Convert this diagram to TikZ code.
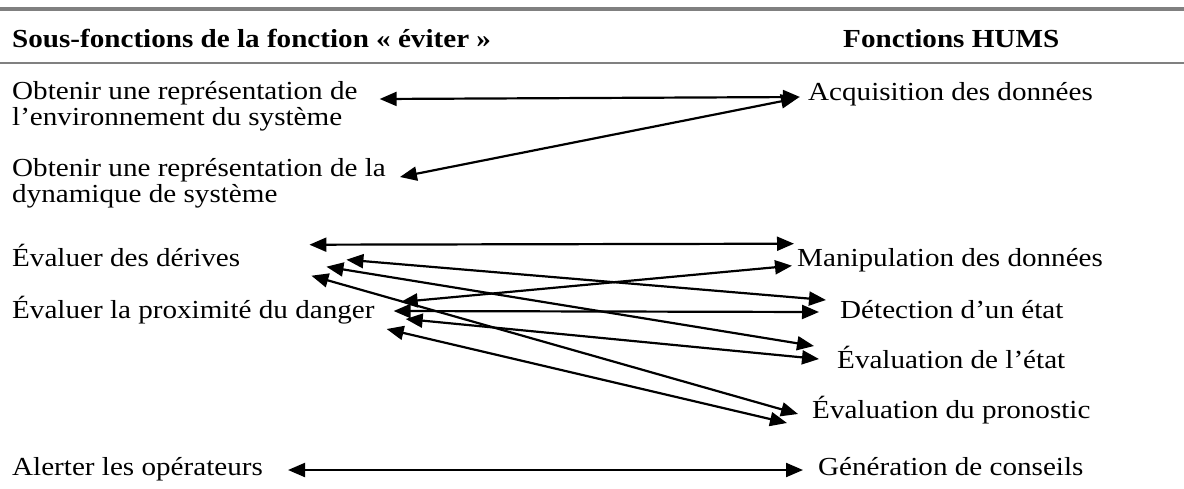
\documentclass[tikz,border=0pt]{standalone}
\usepackage{fontspec}
\setmainfont{Liberation Serif}[FakeStretch=1.12]
\usepackage{tikz}
\usetikzlibrary{arrows.meta}

\begin{document}
\begin{tikzpicture}[x=1pt,y=-1pt,
        txt/.style={anchor=base west,inner sep=0pt,align=left,font=\fontsize{26}{25.5}\selectfont},
        head/.style={txt,font=\fontsize{26}{25.5}\selectfont\bfseries},
        tablerule/.style={draw=gray},
        link/.style={{Triangle[length=17pt,width=14pt]}-{Triangle[length=17pt,width=14pt]},line width=2.2pt}]

        \useasboundingbox (0,0) rectangle (1184,488);

        % lignes du tableau
        \draw [tablerule,line width=4pt] (0,9) -- (1184,9);
        \draw [tablerule,line width=2pt] (0,63) -- (1184,63);

        % en-tetes
        \node [head] (hleft) at (12,47) {Sous-fonctions de la fonction « éviter »};
        \node [head] (hright) at (843,47) {Fonctions HUMS};

        % sous-fonctions (base = derniere ligne)
        \node [txt] (env) at (12,125) {Obtenir une représentation de\\l’environnement du système};
        \node [txt] (dyn) at (12,202) {Obtenir une représentation de la\\dynamique de système};
        \node [txt] (derives) at (12,266.7) {Évaluer des dérives};
        \node [txt] (danger) at (12,318) {Évaluer la proximité du danger};
        \node [txt] (alert) at (12,475) {Alerter les opérateurs};

        % fonctions HUMS
        \node [txt] (acq) at (808,100) {Acquisition des données};
        \node [txt] (manip) at (797,266.7) {Manipulation des données};
        \node [txt] (detect) at (840,318) {Détection d’un état};
        \node [txt] (evalst) at (837,368) {Évaluation de l’état};
        \node [txt] (prono) at (812,418) {Évaluation du pronostic};
        \node [txt] (gen) at (818,475) {Génération de conseils};

        % liens
        \draw [link] ([shift={(22,-26)}]env.base east) -- ([shift={(-8,-3)}]acq.base west);
        \draw [link] ([shift={(14,-25)}]dyn.base east) -- ([shift={(-10,-2)}]acq.base west);

        \draw [link] ([shift={(69,-22)}]derives.base east) -- ([shift={(-3,-23)}]manip.base west);
        \draw [link] ([shift={(106,-7)}]derives.base east) -- ([shift={(-14,-18)}]detect.base west);
        \draw [link] ([shift={(86,0)}]derives.base east) -- ([shift={(-23,-22)}]evalst.base west);
        \draw [link] ([shift={(71,9)}]derives.base east) -- ([shift={(-14,-4)}]prono.base west);

        \draw [link] ([shift={(26,-16)}]danger.base east) -- ([shift={(-5,-1)}]manip.base west);
        \draw [link] ([shift={(19,-7)}]danger.base east) -- ([shift={(-21,-6)}]detect.base west);
        \draw [link] ([shift={(31,1)}]danger.base east) -- ([shift={(-18,-9)}]evalst.base west);
        \draw [link] ([shift={(12,11)}]danger.base east) -- ([shift={(-25,5)}]prono.base west);

        \draw [link] ([shift={(25,-5)}]alert.base east) -- ([shift={(-15,-5)}]gen.base west);
    \end{tikzpicture}
\end{document}
